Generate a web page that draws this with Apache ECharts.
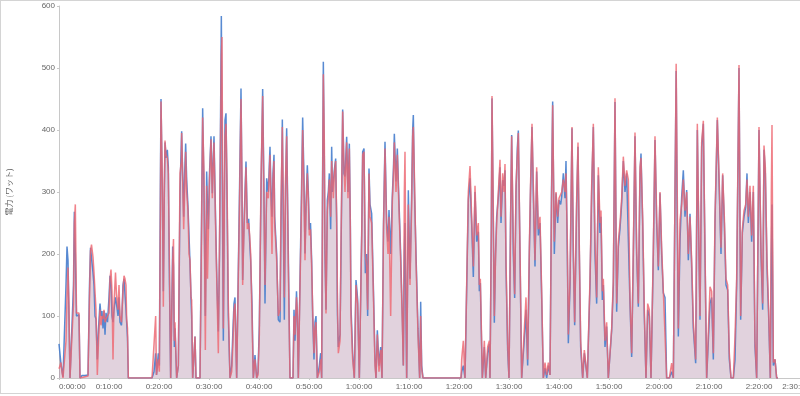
<!DOCTYPE html>
<html>
<head>
<meta charset="utf-8">
<script src="https://cdn.jsdelivr.net/npm/echarts@6/dist/echarts.min.js"></script>
<style>
html,body{margin:0;padding:0;background:#fff;}
#chart{position:absolute;left:0;top:0;width:800px;height:396px;}
#frame{position:absolute;left:0;top:0;width:830px;height:394px;box-sizing:border-box;border:1px solid #d4d4d4;pointer-events:none;}
</style>
</head>
<body>
<div id="chart"></div>
<div id="frame"></div>
<script>
// elapsed time (seconds) and power (W) for the two riders
const timeA = [0,24,36,48,72,84,96,108,120,132,156,174,184,196,210,228,240,252,276,312,336,348,366,378,390,408,420,432,444,460,474,492,504,516,528,540,552,564,582,600,612,624,636,648,660,678,690,708,720,732,750,768,780,792,804,812,822,832,1116];
const blueA = [55,22,25,2,2,150,212,190,100,0,0,150,268,200,100,100,102,0,4,4,3,5,150,210,212,170,150,100,95,30,80,120,100,108,80,108,70,105,90,130,165,150,100,90,110,130,120,100,130,90,85,150,160,135,110,90,65,0,0];
const redA  = [15,25,10,0,2,60,130,178,110,0,0,120,250,280,105,103,105,0,2,2,2,3,130,205,215,195,170,140,110,5,60,110,85,100,95,110,90,95,100,105,160,175,140,30,120,170,135,110,150,100,90,140,165,160,150,95,80,0,0];

const timeB = [1140,1160,1170,1192,1204,1216,1224,1240,1252,1264,
  1272,1284,1300,1312,1326,1340,1354,1364,1374,1384,
  1392,1412,1432,1452,1468,1472,1484,1496,1508,1520,
  1532,1548,1560,1572,1584,1592,1604,1620,1632,1644,
  1692,1710,1724,1740,1756,1772,1782,1792,1806,1824,
  1840,1848,1860,1880,1896,1912,1926,1948,1956,1972,
  1984,1992,2004,2016,2032,2052,2072,2088,2100,2112,
  2132,2166,2184,2196,2204,2220,2232,2244,2260,2276,
  2288,2300,2316,2332,2352,2372,2388,2404,2424,2444,
  2460,2472,2492,2512,2532,2544,2556,2568,2580,2588,
  2612,2632,2652,2664,2680,2692,2704,2718,2732,2752,
  2772,2808,2820,2832,2850,2860,2872];
const blueB = [10,40,5,40,20,300,450,300,140,300,
  380,355,368,340,150,0,0,212,180,50,
  80,0,20,300,380,398,330,260,330,378,
  320,276,230,185,130,100,0,0,67,0,
  0,250,435,300,100,333,280,240,330,390,
  298,340,390,250,150,75,200,584,400,60,
  300,416,427,300,100,0,20,80,120,130,
  0,300,467,300,158,250,300,349,250,257,
  220,190,120,0,37,0,10,85,300,466,
  300,120,322,300,373,300,260,330,360,260,
  200,94,90,250,417,250,94,300,403,200,
  0,0,110,60,140,100,0];
const redB  = [0,100,5,30,10,250,446,320,115,310,
  383,360,355,330,180,0,0,190,224,60,
  90,0,20,330,350,395,320,240,300,365,
  300,270,200,190,130,126,0,0,67,0,
  0,230,420,330,45,310,160,230,320,385,
  290,330,380,240,140,40,220,520,550,80,
  280,390,410,320,120,0,10,60,110,120,
  0,280,450,320,150,240,290,340,240,250,
  230,200,100,0,30,0,5,70,320,455,
  280,150,300,290,360,280,200,320,350,250,
  190,100,110,280,405,280,130,320,390,180,
  0,0,100,70,130,110,0];

const timeC = [2892,2910,2924,2940,2952,2964,2980,2992,3004,3018,
  3032,3044,3060,3072,3084,3100,3124,3140,3152,3162,
  3172,3184,3192,3204,3220,3232,3244,3260,3272,3282,
  3292,3304,3320,3332,3342,3352,3372,3384,3404,3420,
  3432,3452,3468,3484,3496,3504,3524,3544,3564,3576,
  3584,3604,3620,3634,3644,3660,3676,3690,3704,3720,
  3732,3752,3772,3792,3804,3820,3840,3860,3876,3894,
  3912,3932,3948,3960,3980,4000,4014,4024,4044,4060,
  4076,4100,4120,4132,4144,4152,4164,4172,4192,4212,
  4232,4244,4252,4266,4284,4308,4328,4340,4352,4368,
  4824];
const blueC = [0,300,420,320,201,280,343,300,239,250,
  190,100,30,90,100,0,20,40,0,300,
  510,350,200,110,287,300,330,240,373,300,
  303,335,354,250,100,50,70,200,433,330,
  325,389,300,378,250,115,40,0,158,140,
  126,0,0,250,365,370,169,200,100,338,
  280,265,150,30,0,77,20,50,0,250,
  381,250,220,271,200,295,340,394,317,370,
  300,200,100,20,200,250,100,0,303,160,
  300,400,424,300,200,80,0,123,20,0,
  0];
const redC  = [0,280,400,300,190,270,330,290,230,240,
  180,110,40,80,90,0,10,30,0,280,
  490,380,220,104,270,290,320,260,350,320,
  290,330,350,260,120,40,60,220,430,340,
  300,380,290,370,240,100,30,0,150,130,
  120,0,0,240,360,365,200,180,110,330,
  260,250,140,20,0,70,10,45,0,240,
  370,240,200,260,100,285,330,380,300,360,
  290,190,90,20,300,365,150,0,280,150,
  280,390,405,320,190,70,0,100,15,0,
  0];

const timeD = [4832,4852,4872,4892,4912,4932,4952,4972,4992,5012,
  5032,5044,5056,5064,5080,5104,5120,5144,5164,5172,
  5188,5196,5208,5224,5238,5252,5272,5292,5304,5324,
  5340,5352,5364,5384,5400,5418,5432,5452,5468,5484,
  5500,5512,5532,5552,5572,5592,5604,5624,5644,5658,
  5676,5692,5712,5732,5752,5772,5792,5812,5832,5852,
  5872,5892,5910,5924,5944,5964,5984,6000,6020,6032,
  6052,6072,6084,6100,6112,6132,6156,6172,6188,6212,
  6228,6244,6260,6284,6304,6324,6340];
const blueD = [10,20,0,0,287,322,250,163,300,220,
  236,140,153,100,0,50,0,40,55,0,
  250,451,300,89,200,260,292,340,250,319,
  310,335,180,45,0,250,392,200,129,300,
  371,399,200,0,0,80,110,20,200,300,
  405,300,180,333,230,250,131,0,16,0,
  20,5,300,446,200,298,250,287,280,292,
  330,290,350,200,56,150,403,200,85,280,
  373,200,50,0,40,40,0];
const redD  = [30,60,0,0,300,342,260,180,310,230,
  250,150,160,110,0,60,0,50,60,0,
  240,455,320,100,190,250,300,352,260,330,
  300,345,190,55,0,240,390,220,135,310,
  360,395,210,0,0,99,130,30,210,310,
  410,310,190,340,240,260,140,0,25,5,
  25,5,280,440,220,300,260,290,290,300,
  320,300,330,220,70,160,405,210,90,290,
  380,210,60,0,45,45,0];

const timeE = [6372,6392,6412,6432,6452,6472,6492,6504,6520,6532,
  6552,6572,6592,6612,6632,6652,6672,6692,6712,6732,
  6752,6772,6792,6812,6832,6852,6872,6892,6912,6932,
  6952,6972,6984,7004,7024,7044,7064,7084,7104,7132,
  7152,7172,7192,7212,7232,7252,7272,7292,7324,7352,
  7372,7392,7406,7416,7432,7452,7472,7492,7512,7532,
  7552,7572,7592,7612,7640,7660,7680,7692,7712,7732,
  7752,7772,7792,7812,7832,7852,7872,7900,7924,7944,
  7964,7984,8004,8024,8044,8064,8092,8112,8132,8160,
  8180,8200,8220,8240,8256,8272,8292,8312,8332,8352,
  8372,8400,8424,8444,8460,8476,8496,8516,8536,8548,
  8556,8572,8592,8612,8628];
const blueE = [150,300,405,200,120,327,234,260,126,150,
  50,83,0,0,77,150,445,107,212,241,
  282,350,300,330,330,120,34,200,390,200,
  115,330,362,250,100,0,110,100,0,200,
  384,250,174,298,200,137,130,0,0,10,
  0,300,495,300,67,222,292,335,260,303,
  190,265,180,80,24,400,200,94,373,410,
  200,0,0,120,130,30,250,416,300,200,
  327,250,150,142,30,0,0,29,150,500,
  94,234,260,276,330,250,300,220,300,50,
  0,400,200,110,368,330,180,100,0,200,
  280,20,30,0,0];
const redE  = [160,310,410,220,130,340,250,270,140,160,
  60,90,0,0,80,160,451,120,220,250,
  290,357,310,335,320,130,40,210,396,210,
  120,340,355,260,110,0,120,110,0,210,
  390,260,180,300,210,140,140,0,0,24,
  0,300,507,350,80,255,280,320,270,300,
  200,260,190,90,30,410,210,100,380,415,
  210,0,0,147,140,40,260,420,310,210,
  330,260,160,150,40,0,0,67,160,505,
  100,240,270,280,320,260,310,230,310,60,
  0,405,210,120,375,340,190,110,0,300,
  408,25,30,0,0];

const timeSec = [].concat(timeA, timeB, timeC, timeD, timeE);
const bluePower = [].concat(blueA, blueB, blueC, blueD, blueE);
const redPower = [].concat(redA, redB, redC, redD, redE);

const yAxisName = '電力 (ワット)';

function fmt(sec) {
  const h = Math.floor(sec / 3600);
  const m = Math.floor((sec % 3600) / 60);
  const s = sec % 60;
  return h + ':' + String(m).padStart(2, '0') + ':' + String(s).padStart(2, '0');
}

const chart = echarts.init(document.getElementById('chart'), null, {renderer: 'canvas'});
const areaFill = 'rgba(140,85,130,0.2)';
chart.setOption({
  animation: false,
  backgroundColor: '#fff',
  grid: {left: 59, width: 750, top: 6, bottom: 18, containLabel: false, outerBoundsMode: 'none'},
  xAxis: {
    type: 'value', min: 0, max: 9000, interval: 600,
    axisLine: {show: true, lineStyle: {color: '#c8c8c8'}},
    axisTick: {show: true, length: 2, lineStyle: {color: '#c8c8c8'}},
    splitLine: {show: false},
    axisLabel: {
      formatter: v => fmt(v), color: '#666', fontSize: 8, margin: 5,
      fontFamily: 'Liberation Sans, Arial, sans-serif', alignMinLabel: 'left', alignMaxLabel: 'right',
      showMinLabel: true, showMaxLabel: true, hideOverlap: false
    }
  },
  yAxis: {
    type: 'value', min: 0, max: 600, interval: 100,
    name: yAxisName, nameLocation: 'middle', nameGap: 46,
    nameTextStyle: {color: '#666', fontSize: 8, fontFamily: 'Noto Sans CJK JP, sans-serif'},
    axisLine: {show: true, lineStyle: {color: '#c8c8c8'}},
    axisTick: {show: true, length: 2, lineStyle: {color: '#c8c8c8'}},
    splitLine: {show: false},
    axisLabel: {color: '#666', fontSize: 8, margin: 4, fontFamily: 'Liberation Sans, Arial, sans-serif'}
  },
  series: [
    {
      type: 'line', name: 'blue', showSymbol: false, symbol: 'none',
      data: timeSec.map((t, i) => [t, bluePower[i]]),
      lineStyle: {color: 'rgba(70,125,205,0.9)', width: 1.5},
      areaStyle: {color: areaFill}
    },
    {
      type: 'line', name: 'red', showSymbol: false, symbol: 'none',
      data: timeSec.map((t, i) => [t, redPower[i]]),
      lineStyle: {color: 'rgba(238,100,110,0.8)', width: 1.5},
      areaStyle: {color: areaFill}
    }
  ]
});
</script>
</body>
</html>
